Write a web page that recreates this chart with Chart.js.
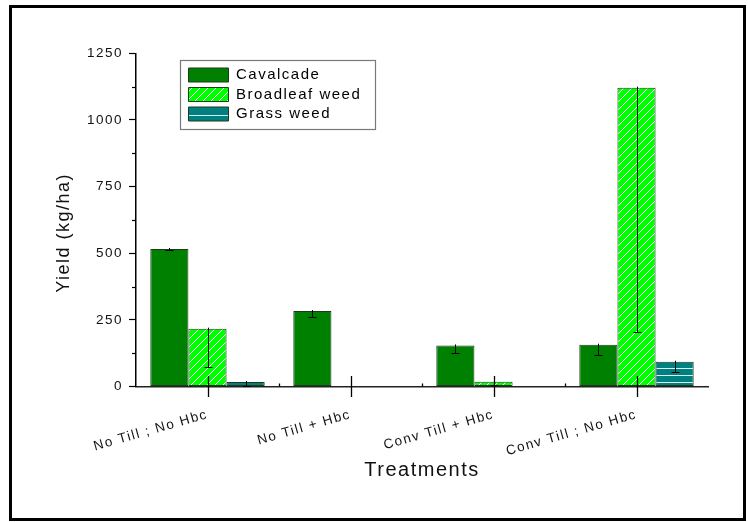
<!DOCTYPE html>
<html><head><meta charset="utf-8">
<script src="https://cdn.jsdelivr.net/npm/chart.js@4.4.0/dist/chart.umd.min.js"></script>
<style>html,body{margin:0;padding:0;background:#fff;}canvas{display:block;}</style>
</head><body>
<canvas id="c" width="748" height="522"></canvas>
<script>
const categories = ['No Till ; No Hbc', 'No Till + Hbc', 'Conv Till + Hbc', 'Conv Till ; No Hbc'];
const seriesNames = ['Cavalcade', 'Broadleaf weed', 'Grass weed'];
const cavalcade = [516, 283, 154, 157];
const cavalcadeErr = [5, 22, 30, 37];
const broadleaf = [217, 0, 18, 1121];
const broadleafErr = [145, 0, 12, 918];
const grass = [17, 0, 2, 93];
const grassErr = [14, 0, 0, 40];
const yTicksMajor = [0, 250, 500, 750, 1000, 1250];

function makePattern(w, h, draw) {
  const c = document.createElement('canvas');
  c.width = w; c.height = h;
  const g = c.getContext('2d');
  draw(g, w, h);
  return document.getElementById('c').getContext('2d').createPattern(c, 'repeat');
}
const diagPattern = makePattern(8, 8, (g, w, h) => {
  g.fillStyle = '#00ff00'; g.fillRect(0, 0, w, h);
  g.strokeStyle = '#ffffff'; g.lineWidth = 1;
  g.beginPath();
  g.moveTo(-1, 9); g.lineTo(9, -1);
  g.moveTo(-1, 1); g.lineTo(1, -1);
  g.moveTo(7, 9); g.lineTo(9, 7);
  g.stroke();
});
const hPattern = makePattern(8, 7, (g, w, h) => {
  g.fillStyle = '#008080'; g.fillRect(0, 0, w, h);
  g.fillStyle = '#d8f4f4'; g.fillRect(0, 4, w, 1);
});
const hPatternLegend = makePattern(8, 14, (g, w, h) => {
  g.fillStyle = '#008080'; g.fillRect(0, 0, w, h);
  g.fillStyle = '#d8f4f4'; g.fillRect(0, 3, w, 1);
});

Chart.defaults.font.family = "'Liberation Sans', Arial, sans-serif";
Chart.defaults.color = '#111';

const spacingPlugin = {
  id: 'spacing',
  beforeUpdate(chart) { chart.ctx.letterSpacing = '1.5px'; },
  beforeDraw(chart) {
    chart.ctx.letterSpacing = '1.5px';
  },
  afterLayout(chart) {
    const lg = chart.legend;
    if (!lg) return;
    const w = lg.width, h = lg.height;
    lg.left = 184; lg.top = 63; lg.right = lg.left + w; lg.bottom = lg.top + h;
  },
  afterDatasetsDraw(chart) {
    const ctx = chart.ctx;
    const xs = chart.scales.x, ys = chart.scales.y;
    const errs = [cavalcadeErr, broadleafErr, grassErr];
    const vals = [cavalcade, broadleaf, grass];
    ctx.save();
    ctx.strokeStyle = '#000';
    ctx.lineWidth = 1;
    for (let i = 0; i < vals.length; i++) {
      const meta = chart.getDatasetMeta(i);
      meta.data.forEach((bar, j) => {
        const e = errs[i][j];
        if (!e) return;
        const x = Math.round(bar.x) + 0.5;
        const yt = ys.getPixelForValue(vals[i][j]);
        const yb = Math.round(ys.getPixelForValue(vals[i][j] - e)) + 0.5;
        ctx.beginPath();
        ctx.moveTo(x, yt - 1); ctx.lineTo(x, yb);
        ctx.moveTo(x - 4, yb); ctx.lineTo(x + 4, yb);
        ctx.stroke();
      });
    }
    const y0 = ys.getPixelForValue(0);
    ctx.lineWidth = 1.3;
    categories.forEach((c, j) => {
      const x = Math.round(xs.getPixelForValue(j)) + 0.5;
      ctx.beginPath(); ctx.moveTo(x, y0 - 10.5); ctx.lineTo(x, y0 + 10.5); ctx.stroke();
      if (j < categories.length - 1) {
        const xm = Math.round((xs.getPixelForValue(j) + xs.getPixelForValue(j + 1)) / 2) + 0.5;
        ctx.beginPath(); ctx.moveTo(xm, y0 - 3); ctx.lineTo(xm, y0); ctx.stroke();
      }
    });
    ctx.lineWidth = 1.2;
    for (let k = 0; k < yTicksMajor.length - 1; k++) {
      const v = (yTicksMajor[k] + yTicksMajor[k + 1]) / 2;
      const y = Math.round(ys.getPixelForValue(v)) + 0.5;
      ctx.beginPath(); ctx.moveTo(xs.left - 4, y); ctx.lineTo(xs.left, y); ctx.stroke();
    }
    ctx.restore();
  },
  afterDraw(chart) {
    const ctx = chart.ctx;
    ctx.save();
    ctx.strokeStyle = '#7a7a7a'; ctx.lineWidth = 1.2;
    ctx.strokeRect(180.5, 60.5, 195, 69);
    ctx.strokeStyle = '#000'; ctx.lineWidth = 3;
    ctx.strokeRect(10.5, 6.5, 734, 513);
    ctx.restore();
  }
};

new Chart(document.getElementById('c'), {
  type: 'bar',
  data: {
    labels: categories,
    datasets: [
      { label: seriesNames[0], data: cavalcade, backgroundColor: '#008000', borderColor: '#1d3a1d', borderWidth: 1, borderSkipped: false },
      { label: seriesNames[1], data: broadleaf, backgroundColor: diagPattern, borderColor: '#1d3a1d', borderWidth: 1, borderSkipped: false },
      { label: seriesNames[2], data: grass, backgroundColor: hPattern, borderColor: '#1d3a1d', borderWidth: 1, borderSkipped: false }
    ]
  },
  options: {
    responsive: false,
    animation: false,
    devicePixelRatio: 1,
    categoryPercentage: 0.8,
    barPercentage: 1.0,
    layout: { padding: { left: 20, right: 40, top: 53.3, bottom: 20 } },
    plugins: {
      tooltip: { enabled: false },
      legend: {
        position: 'chartArea',
        align: 'start',
        labels: {
          boxWidth: 40, boxHeight: 14, padding: 4.5, color: '#000',
          font: { size: 15 },
          generateLabels(chart) {
            const items = Chart.defaults.plugins.legend.labels.generateLabels(chart);
            if (items[2]) items[2].fillStyle = hPatternLegend;
            return items;
          }
        }
      }
    },
    scales: {
      x: {
        offset: true,
        grid: { display: false },
        border: { display: true, color: '#222', width: 1.5 },
        ticks: { autoSkip: false, minRotation: 16, maxRotation: 16, padding: 12, color: '#111', font: { size: 13.5 } },
        title: { display: true, text: 'Treatments', font: { size: 20 }, color: '#111', padding: { top: 0, bottom: 20 } },
        afterFit(s) { s.height = 115.5; }
      },
      y: {
        min: 0, max: 1250,
        ticks: { stepSize: 125, padding: 6, color: '#111', font: { size: 13.5 },
          callback: (v) => (yTicksMajor.includes(v) ? String(v) : '') },
        grid: { display: true, drawOnChartArea: false, drawTicks: true, tickLength: 7, tickWidth: 1.2,
          tickColor: (ctx) => (ctx.tick && yTicksMajor.includes(ctx.tick.value)) ? '#000' : 'rgba(0,0,0,0)' },
        border: { display: true, color: '#000', width: 1.5 },
        title: { display: true, text: 'Yield (kg/ha)    ', font: { size: 18 }, color: '#111', padding: { top: 33.7, bottom: 0 } },
        afterFit(s) { s.width = 116; }
      }
    }
  },
  plugins: [spacingPlugin]
});
</script>
</body></html>
